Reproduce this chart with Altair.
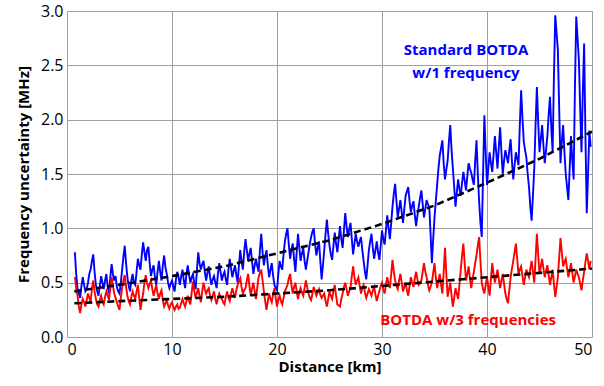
import altair as alt
import pandas as pd

distance = [
    0.75, 0.875,
    1.0, 1.125, 1.25, 1.375, 1.5, 1.625, 1.75, 1.875,
    2.0, 2.125, 2.25, 2.375, 2.5, 2.625, 2.75, 2.875,
    3.0, 3.125, 3.25, 3.375, 3.5, 3.625, 3.75, 3.875,
    4.0, 4.125, 4.25, 4.375, 4.5, 4.625, 4.75, 4.875,
    5.0, 5.125, 5.25, 5.375, 5.5, 5.625, 5.75, 5.875,
    6.0, 6.125, 6.25, 6.375, 6.5, 6.625, 6.75, 6.875,
    7.0, 7.125, 7.25, 7.375, 7.5, 7.625, 7.75, 7.875,
    8.0, 8.125, 8.25, 8.375, 8.5, 8.625, 8.75, 8.875,
    9.0, 9.125, 9.25, 9.375, 9.5, 9.625, 9.75, 9.875,
    10.0, 10.125, 10.25, 10.375, 10.5, 10.625, 10.75, 10.875,
    11.0, 11.125, 11.25, 11.375, 11.5, 11.625, 11.75, 11.875,
    12.0, 12.125, 12.25, 12.375, 12.5, 12.625, 12.75, 12.875,
    13.0, 13.125, 13.25, 13.375, 13.5, 13.625, 13.75, 13.875,
    14.0, 14.125, 14.25, 14.375, 14.5, 14.625, 14.75, 14.875,
    15.0, 15.125, 15.25, 15.375, 15.5, 15.625, 15.75, 15.875,
    16.0, 16.125, 16.25, 16.375, 16.5, 16.625, 16.75, 16.875,
    17.0, 17.125, 17.25, 17.375, 17.5, 17.625, 17.75, 17.875,
    18.0, 18.125, 18.25, 18.375, 18.5, 18.625, 18.75, 18.875,
    19.0, 19.125, 19.25, 19.375, 19.5, 19.625, 19.75, 19.875,
    20.0, 20.125, 20.25, 20.375, 20.5, 20.625, 20.75, 20.875,
    21.0, 21.125, 21.25, 21.375, 21.5, 21.625, 21.75, 21.875,
    22.0, 22.125, 22.25, 22.375, 22.5, 22.625, 22.75, 22.875,
    23.0, 23.125, 23.25, 23.375, 23.5, 23.625, 23.75, 23.875,
    24.0, 24.125, 24.25, 24.375, 24.5, 24.625, 24.75, 24.875,
    25.0, 25.125, 25.25, 25.375, 25.5, 25.625, 25.75, 25.875,
    26.0, 26.125, 26.25, 26.375, 26.5, 26.625, 26.75, 26.875,
    27.0, 27.125, 27.25, 27.375, 27.5, 27.625, 27.75, 27.875,
    28.0, 28.125, 28.25, 28.375, 28.5, 28.625, 28.75, 28.875,
    29.0, 29.125, 29.25, 29.375, 29.5, 29.625, 29.75, 29.875,
    30.0, 30.125, 30.25, 30.375, 30.5, 30.625, 30.75, 30.875,
    31.0, 31.125, 31.25, 31.375, 31.5, 31.625, 31.75, 31.875,
    32.0, 32.125, 32.25, 32.375, 32.5, 32.625, 32.75, 32.875,
    33.0, 33.125, 33.25, 33.375, 33.5, 33.625, 33.75, 33.875,
    34.0, 34.125, 34.25, 34.375, 34.5, 34.625, 34.75, 34.875,
    35.0, 35.125, 35.25, 35.375, 35.5, 35.625, 35.75, 35.875,
    36.0, 36.125, 36.25, 36.375, 36.5, 36.625, 36.75, 36.875,
    37.0, 37.125, 37.25, 37.375, 37.5, 37.625, 37.75, 37.875,
    38.0, 38.125, 38.25, 38.375, 38.5, 38.625, 38.75, 38.875,
    39.0, 39.125, 39.25, 39.375, 39.5, 39.625, 39.75, 39.875,
    40.0, 40.125, 40.25, 40.375, 40.5, 40.625, 40.75, 40.875,
    41.0, 41.125, 41.25, 41.375, 41.5, 41.625, 41.75, 41.875,
    42.0, 42.125, 42.25, 42.375, 42.5, 42.625, 42.75, 42.875,
    43.0, 43.125, 43.25, 43.375, 43.5, 43.625, 43.75, 43.875,
    44.0, 44.125, 44.25, 44.375, 44.5, 44.625, 44.75, 44.875,
    45.0, 45.125, 45.25, 45.375, 45.5, 45.625, 45.75, 45.875,
    46.0, 46.125, 46.25, 46.375, 46.5, 46.625, 46.75, 46.875,
    47.0, 47.125, 47.25, 47.375, 47.5, 47.625, 47.75, 47.875,
    48.0, 48.125, 48.25, 48.375, 48.5, 48.625, 48.75, 48.875,
    49.0, 49.125, 49.25, 49.375, 49.5, 49.625, 49.75, 49.875,
]

blue_1freq = [
    0.78, 0.58,
    0.45, 0.40, 0.36, 0.47, 0.55, 0.48, 0.42, 0.44,
    0.50, 0.58, 0.62, 0.70, 0.76, 0.60, 0.48, 0.42,
    0.38, 0.47, 0.56, 0.50, 0.44, 0.52, 0.58, 0.46,
    0.40, 0.55, 0.67, 0.58, 0.52, 0.56, 0.46, 0.42,
    0.40, 0.50, 0.62, 0.74, 0.84, 0.68, 0.55, 0.47,
    0.42, 0.52, 0.58, 0.50, 0.48, 0.60, 0.72, 0.66,
    0.62, 0.76, 0.87, 0.78, 0.70, 0.80, 0.83, 0.68,
    0.56, 0.62, 0.66, 0.55, 0.48, 0.60, 0.70, 0.60,
    0.52, 0.66, 0.75, 0.64, 0.58, 0.50, 0.45, 0.49,
    0.52, 0.46, 0.42, 0.53, 0.60, 0.55, 0.48, 0.56,
    0.62, 0.52, 0.45, 0.58, 0.66, 0.57, 0.50, 0.55,
    0.58, 0.49, 0.44, 0.62, 0.78, 0.68, 0.62, 0.67,
    0.70, 0.60, 0.52, 0.59, 0.65, 0.55, 0.48, 0.53,
    0.56, 0.50, 0.45, 0.58, 0.68, 0.60, 0.52, 0.57,
    0.60, 0.53, 0.48, 0.62, 0.72, 0.63, 0.55, 0.61,
    0.66, 0.57, 0.50, 0.66, 0.80, 0.70, 0.62, 0.78,
    0.90, 0.80, 0.70, 0.77, 0.82, 0.69, 0.58, 0.66,
    0.72, 0.65, 0.60, 0.80, 0.95, 0.78, 0.66, 0.74,
    0.80, 0.66, 0.55, 0.62, 0.68, 0.57, 0.48, 0.45,
    0.43, 0.58, 0.70, 0.65, 0.62, 0.76, 0.88, 0.95,
    1.00, 0.85, 0.72, 0.80, 0.86, 0.72, 0.60, 0.78,
    0.95, 0.82, 0.70, 0.77, 0.82, 0.70, 0.62, 0.70,
    0.78, 0.86, 0.92, 0.97, 1.00, 0.86, 0.75, 0.82,
    0.88, 0.70, 0.53, 0.66, 0.80, 0.95, 1.08, 0.95,
    0.84, 0.76, 0.71, 0.84, 0.96, 0.86, 0.78, 0.90,
    1.02, 0.90, 0.82, 0.98, 1.14, 1.02, 0.92, 0.99,
    1.05, 0.90, 0.76, 0.86, 0.95, 0.88, 0.83, 0.88,
    0.92, 0.80, 0.70, 0.60, 0.53, 0.66, 0.80, 0.88,
    0.95, 0.82, 0.72, 0.80, 0.88, 0.78, 0.71, 0.84,
    0.98, 0.90, 0.85, 0.98, 1.12, 1.00, 0.90, 1.05,
    1.20, 1.32, 1.41, 1.25, 1.10, 1.18, 1.26, 1.15,
    1.05, 1.18, 1.30, 1.34, 1.38, 1.25, 1.15, 1.21,
    1.25, 1.12, 1.02, 1.12, 1.20, 1.28, 1.35, 1.22,
    1.10, 1.18, 1.26, 1.22, 1.20, 0.95, 0.68, 0.90,
    1.10, 1.25, 1.40, 1.55, 1.67, 1.74, 1.81, 1.60,
    1.45, 1.54, 1.62, 1.80, 1.95, 1.72, 1.55, 1.38,
    1.20, 1.33, 1.45, 1.36, 1.30, 1.42, 1.52, 1.44,
    1.35, 1.48, 1.60, 1.55, 1.51, 1.45, 1.40, 1.62,
    1.81, 1.50, 1.25, 1.05, 0.92, 1.50, 2.04, 1.70,
    1.40, 1.55, 1.70, 1.60, 1.52, 1.68, 1.85, 1.70,
    1.55, 1.75, 1.93, 1.70, 1.50, 1.62, 1.72, 1.66,
    1.60, 1.72, 1.82, 1.62, 1.45, 1.58, 1.70, 1.64,
    1.58, 1.95, 2.27, 2.02, 1.80, 1.72, 1.65, 1.50,
    1.38, 1.20, 1.07, 1.30, 1.55, 1.95, 2.30, 1.98,
    1.70, 1.82, 1.95, 1.76, 1.60, 1.72, 1.85, 2.05,
    2.21, 1.92, 1.70, 2.40, 2.96, 2.80, 2.64, 2.10,
    1.60, 1.80, 1.95, 1.70, 1.50, 1.38, 1.26, 1.55,
    1.85, 1.62, 1.45, 2.30, 2.95, 2.75, 2.55, 2.10,
    1.70, 2.25, 2.70, 1.85, 1.14, 1.50, 1.90, 1.75,
]

red_3freq = [
    0.55, 0.45,
    0.38, 0.28, 0.22, 0.30, 0.35, 0.32, 0.28, 0.34,
    0.40, 0.36, 0.32, 0.44, 0.52, 0.42, 0.35, 0.30,
    0.28, 0.34, 0.38, 0.33, 0.30, 0.37, 0.42, 0.38,
    0.34, 0.45, 0.55, 0.47, 0.40, 0.36, 0.32, 0.28,
    0.25, 0.36, 0.45, 0.52, 0.57, 0.46, 0.38, 0.33,
    0.30, 0.37, 0.42, 0.38, 0.35, 0.42, 0.48, 0.36,
    0.25, 0.33, 0.40, 0.50, 0.57, 0.50, 0.45, 0.49,
    0.52, 0.44, 0.38, 0.43, 0.48, 0.40, 0.35, 0.40,
    0.43, 0.34, 0.28, 0.31, 0.34, 0.29, 0.26, 0.30,
    0.32, 0.28, 0.25, 0.28, 0.30, 0.26, 0.27, 0.31,
    0.35, 0.31, 0.28, 0.33, 0.38, 0.33, 0.30, 0.41,
    0.51, 0.42, 0.36, 0.41, 0.45, 0.38, 0.32, 0.42,
    0.50, 0.44, 0.40, 0.43, 0.45, 0.38, 0.34, 0.38,
    0.42, 0.35, 0.30, 0.36, 0.40, 0.37, 0.35, 0.32,
    0.30, 0.37, 0.42, 0.36, 0.33, 0.40, 0.45, 0.40,
    0.36, 0.43, 0.48, 0.51, 0.54, 0.46, 0.40, 0.43,
    0.45, 0.52, 0.58, 0.47, 0.38, 0.45, 0.50, 0.42,
    0.35, 0.46, 0.55, 0.59, 0.62, 0.52, 0.42, 0.33,
    0.25, 0.33, 0.40, 0.35, 0.32, 0.39, 0.45, 0.36,
    0.28, 0.34, 0.38, 0.33, 0.30, 0.36, 0.42, 0.45,
    0.48, 0.54, 0.58, 0.48, 0.40, 0.46, 0.50, 0.42,
    0.35, 0.41, 0.45, 0.41, 0.38, 0.45, 0.52, 0.46,
    0.40, 0.36, 0.34, 0.40, 0.46, 0.42, 0.38, 0.41,
    0.44, 0.39, 0.36, 0.38, 0.40, 0.33, 0.28, 0.35,
    0.42, 0.38, 0.35, 0.42, 0.48, 0.38, 0.30, 0.29,
    0.28, 0.35, 0.40, 0.46, 0.50, 0.44, 0.38, 0.42,
    0.45, 0.56, 0.65, 0.55, 0.48, 0.52, 0.55, 0.47,
    0.40, 0.45, 0.48, 0.41, 0.36, 0.40, 0.44, 0.41,
    0.38, 0.43, 0.46, 0.39, 0.33, 0.38, 0.42, 0.47,
    0.50, 0.44, 0.40, 0.48, 0.55, 0.49, 0.45, 0.58,
    0.71, 0.60, 0.52, 0.47, 0.44, 0.52, 0.58, 0.50,
    0.42, 0.46, 0.50, 0.43, 0.38, 0.47, 0.55, 0.50,
    0.46, 0.54, 0.60, 0.53, 0.48, 0.50, 0.52, 0.60,
    0.68, 0.60, 0.55, 0.48, 0.43, 0.46, 0.50, 0.59,
    0.68, 0.55, 0.45, 0.52, 0.58, 0.48, 0.40, 0.60,
    0.82, 0.58, 0.37, 0.44, 0.50, 0.38, 0.28, 0.36,
    0.45, 0.40, 0.35, 0.48, 0.62, 0.75, 0.86, 0.68,
    0.52, 0.58, 0.65, 0.54, 0.45, 0.53, 0.60, 0.68,
    0.75, 0.84, 0.92, 0.70, 0.50, 0.44, 0.40, 0.48,
    0.55, 0.46, 0.38, 0.54, 0.68, 0.58, 0.50, 0.56,
    0.62, 0.53, 0.45, 0.52, 0.58, 0.49, 0.40, 0.35,
    0.31, 0.43, 0.55, 0.63, 0.70, 0.78, 0.86, 0.72,
    0.58, 0.62, 0.65, 0.56, 0.48, 0.55, 0.62, 0.58,
    0.55, 0.63, 0.70, 0.60, 0.50, 0.72, 0.95, 0.76,
    0.58, 0.65, 0.72, 0.63, 0.55, 0.61, 0.66, 0.57,
    0.48, 0.55, 0.62, 0.49, 0.37, 0.46, 0.55, 0.73,
    0.91, 0.78, 0.65, 0.69, 0.72, 0.63, 0.55, 0.61,
    0.68, 0.59, 0.50, 0.56, 0.62, 0.58, 0.55, 0.49,
    0.43, 0.52, 0.60, 0.69, 0.77, 0.70, 0.62, 0.70,
]

fit_distance = [0.7, 5, 10, 15, 20, 25, 30, 35, 40, 45, 50]
blue_fit = [0.42, 0.48, 0.56, 0.65, 0.77, 0.89, 1.04, 1.21, 1.42, 1.64, 1.89]
red_fit = [0.31, 0.33, 0.35, 0.37, 0.40, 0.43, 0.47, 0.51, 0.55, 0.59, 0.63]

FONT = "Open Sans"

raw = pd.DataFrame({
    "d": distance * 2,
    "v": blue_1freq + red_3freq,
    "s": ["blue"] * len(distance) + ["red"] * len(distance),
})
fits = pd.DataFrame({
    "d": fit_distance * 2,
    "v": blue_fit + red_fit,
    "s": ["bf"] * len(fit_distance) + ["rf"] * len(fit_distance),
})
labels = pd.DataFrame({
    "d": [38.0, 38.0, 38.2],
    "v": [2.64, 2.43, 0.16],
    "t": ["Standard BOTDA", "w/1 frequency", "BOTDA w/3 frequencies"],
    "c": ["#0000ff", "#0000ff", "#ff0000"],
})

xs = alt.Scale(domain=[0, 50], nice=False, zero=False)
ys = alt.Scale(domain=[0, 3.0], nice=False)

xax = alt.Axis(title="Distance [km]", values=[0, 10, 20, 30, 40, 50], format="d",
               grid=True, gridColor="#a0a0a0", gridWidth=1, ticks=False, domain=False,
               labelFont=FONT, labelFontSize=16, labelColor="#000", labelPadding=4,
               titleFont=FONT, titleFontSize=15, titleFontWeight="bold", titleColor="#000",
               titlePadding=2)
yax = alt.Axis(title="Frequency uncertainty [MHz]", values=[0, 0.5, 1, 1.5, 2, 2.5, 3],
               format=".1f", grid=True, gridColor="#a0a0a0", gridWidth=1, ticks=False,
               domain=False, labelFont=FONT, labelFontSize=16, labelColor="#000",
               labelPadding=4, titleFont=FONT, titleFontSize=15, titleFontWeight="bold",
               titleColor="#000", titlePadding=9)

lines = alt.Chart(raw).mark_line(strokeWidth=1.9, clip=True).encode(
    x=alt.X("d:Q", scale=xs, axis=xax),
    y=alt.Y("v:Q", scale=ys, axis=yax),
    color=alt.Color("s:N", scale=alt.Scale(domain=["blue", "red"], range=["#0000ff", "#ff0000"]), legend=None),
    detail="s:N",
)

fit_lines = alt.Chart(fits).mark_line(strokeWidth=2.6, strokeDash=[7, 4], color="#000").encode(
    x=alt.X("d:Q", scale=xs),
    y=alt.Y("v:Q", scale=ys),
    detail="s:N",
)

text = alt.Chart(labels).mark_text(font=FONT, fontSize=15, fontWeight="bold", align="center",
                                   baseline="middle").encode(
    x=alt.X("d:Q", scale=xs),
    y=alt.Y("v:Q", scale=ys),
    text="t:N",
    color=alt.Color("c:N", scale=None),
)

chart = alt.layer(lines, fit_lines, text).properties(
    width=525, height=326,
    autosize=alt.AutoSizeParams(type="none"),
    padding={"left": 67, "top": 11, "right": 12, "bottom": 49},
).configure_view(stroke="#000", strokeWidth=2).configure(background="white")

chart.save("out.html", embed_options={"renderer": "svg", "actions": False})
